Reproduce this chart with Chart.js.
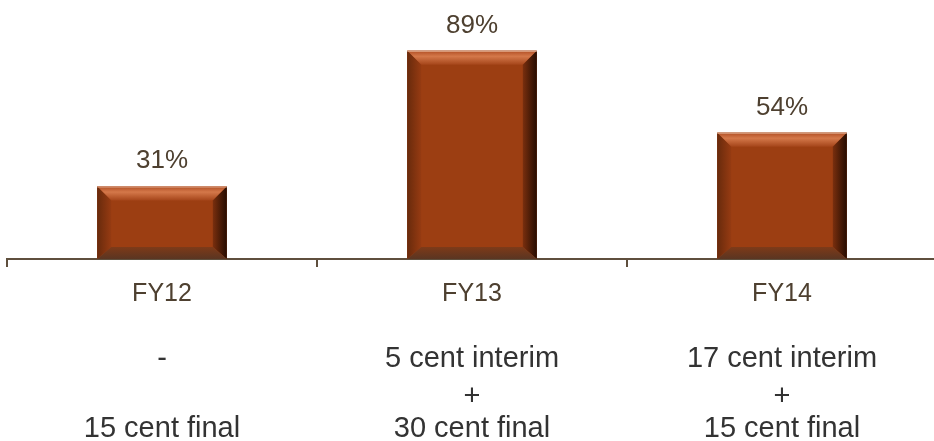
<!DOCTYPE html>
<html>
<head>
<meta charset="utf-8">
<script src="https://cdn.jsdelivr.net/npm/chart.js@4.4.1/dist/chart.umd.min.js"></script>
<style>
  html, body { margin: 0; padding: 0; background: #ffffff; overflow: hidden; }
  #wrap { width: 940px; height: 441px; }
</style>
</head>
<body>
<div id="wrap"><canvas id="c" width="940" height="441"></canvas></div>
<script>
// Payout ratio by financial year, with the dividend make-up under each year
const years = ['FY12', 'FY13', 'FY14'];
const payoutRatio = [31, 89, 54];
const dividendNotes = [
  ['-', '', '15 cent final'],
  ['5 cent interim', '+', '30 cent final'],
  ['17 cent interim', '+', '15 cent final']
];

const FONT = '"Liberation Sans", Arial, sans-serif';
const AXIS_COLOR = '#5f4f3d';
const LABEL_COLOR = '#4e4030';
const NOTE_COLOR = '#333333';
const NOTE_BASELINES = [367, 405, 437];

// Bevelled bar faces plus value labels and the dividend notes under the axis
const bevelPlugin = {
  id: 'bevel',
  afterDatasetsDraw(chart) {
    const ctx = chart.ctx;
    const meta = chart.getDatasetMeta(0);
    meta.data.forEach((bar, i) => {
      const p = bar.getProps(['x', 'y', 'base', 'width'], true);
      const l = p.x - p.width / 2, r = p.x + p.width / 2;
      const t = p.y, b = p.base;
      const bv = 14, bb = 12;
      ctx.save();
      // face
      ctx.fillStyle = '#9c3e12';
      ctx.fillRect(l, t, r - l, b - t);
      // top bevel
      let g = ctx.createLinearGradient(0, t, 0, t + bv);
      g.addColorStop(0, '#b04e24');
      g.addColorStop(0.4, '#d4784a');
      g.addColorStop(1, '#a5451a');
      ctx.fillStyle = g;
      ctx.beginPath();
      ctx.moveTo(l, t); ctx.lineTo(r, t); ctx.lineTo(r - bv, t + bv); ctx.lineTo(l + bv, t + bv);
      ctx.closePath(); ctx.fill();
      // left bevel
      g = ctx.createLinearGradient(l, 0, l + bv, 0);
      g.addColorStop(0, '#682a0c');
      g.addColorStop(1, '#963b12');
      ctx.fillStyle = g;
      ctx.beginPath();
      ctx.moveTo(l, t); ctx.lineTo(l + bv, t + bv); ctx.lineTo(l + bv, b - bb); ctx.lineTo(l, b);
      ctx.closePath(); ctx.fill();
      // right bevel
      g = ctx.createLinearGradient(r - bv, 0, r, 0);
      g.addColorStop(0, '#7a2f0e');
      g.addColorStop(0.6, '#461a06');
      g.addColorStop(1, '#260d02');
      ctx.fillStyle = g;
      ctx.beginPath();
      ctx.moveTo(r, t); ctx.lineTo(r, b); ctx.lineTo(r - bv, b - bb); ctx.lineTo(r - bv, t + bv);
      ctx.closePath(); ctx.fill();
      // bottom bevel
      g = ctx.createLinearGradient(0, b - bb, 0, b);
      g.addColorStop(0, '#7e3a18');
      g.addColorStop(1, '#5a3522');
      ctx.fillStyle = g;
      ctx.beginPath();
      ctx.moveTo(l, b); ctx.lineTo(l + bv, b - bb); ctx.lineTo(r - bv, b - bb); ctx.lineTo(r, b);
      ctx.closePath(); ctx.fill();
      // top highlight edge
      ctx.fillStyle = 'rgba(240,200,175,0.8)';
      ctx.fillRect(l, t, r - l, 1);

      // value label
      ctx.fillStyle = LABEL_COLOR;
      ctx.font = '26px ' + FONT;
      ctx.textAlign = 'center';
      ctx.textBaseline = 'alphabetic';
      ctx.fillText(payoutRatio[i] + '%', p.x, t - 18);
      ctx.restore();
    });

    // dividend notes under each year
    const xs = chart.scales.x;
    ctx.save();
    ctx.fillStyle = NOTE_COLOR;
    ctx.font = '29px ' + FONT;
    ctx.textAlign = 'center';
    ctx.textBaseline = 'alphabetic';
    dividendNotes.forEach((lines, i) => {
      const cx = xs.getPixelForValue(i);
      lines.forEach((txt, k) => {
        if (txt) ctx.fillText(txt, cx, NOTE_BASELINES[k]);
      });
    });
    ctx.restore();
  }
};

new Chart(document.getElementById('c'), {
  type: 'bar',
  data: {
    labels: years,
    datasets: [{
      data: payoutRatio,
      backgroundColor: '#9c3e12',
      borderWidth: 0,
      barPercentage: 0.418,
      categoryPercentage: 1
    }]
  },
  options: {
    responsive: false,
    animation: false,
    layout: { padding: { left: 7, right: 3, top: 25, bottom: 0 } },
    plugins: { legend: { display: false }, tooltip: { enabled: false } },
    scales: {
      x: {
        grid: {
          offset: true,
          drawOnChartArea: false,
          drawTicks: true,
          tickLength: 8,
          color: AXIS_COLOR,
          lineWidth: 2
        },
        border: { display: true, color: AXIS_COLOR, width: 2 },
        ticks: {
          color: LABEL_COLOR,
          font: { family: FONT, size: 25 },
          padding: 12,
          maxRotation: 0
        },
        afterFit(scale) { scale.height = 182; }
      },
      y: {
        display: false,
        min: 0,
        max: 100
      }
    }
  },
  plugins: [bevelPlugin]
});
</script>
</body>
</html>
